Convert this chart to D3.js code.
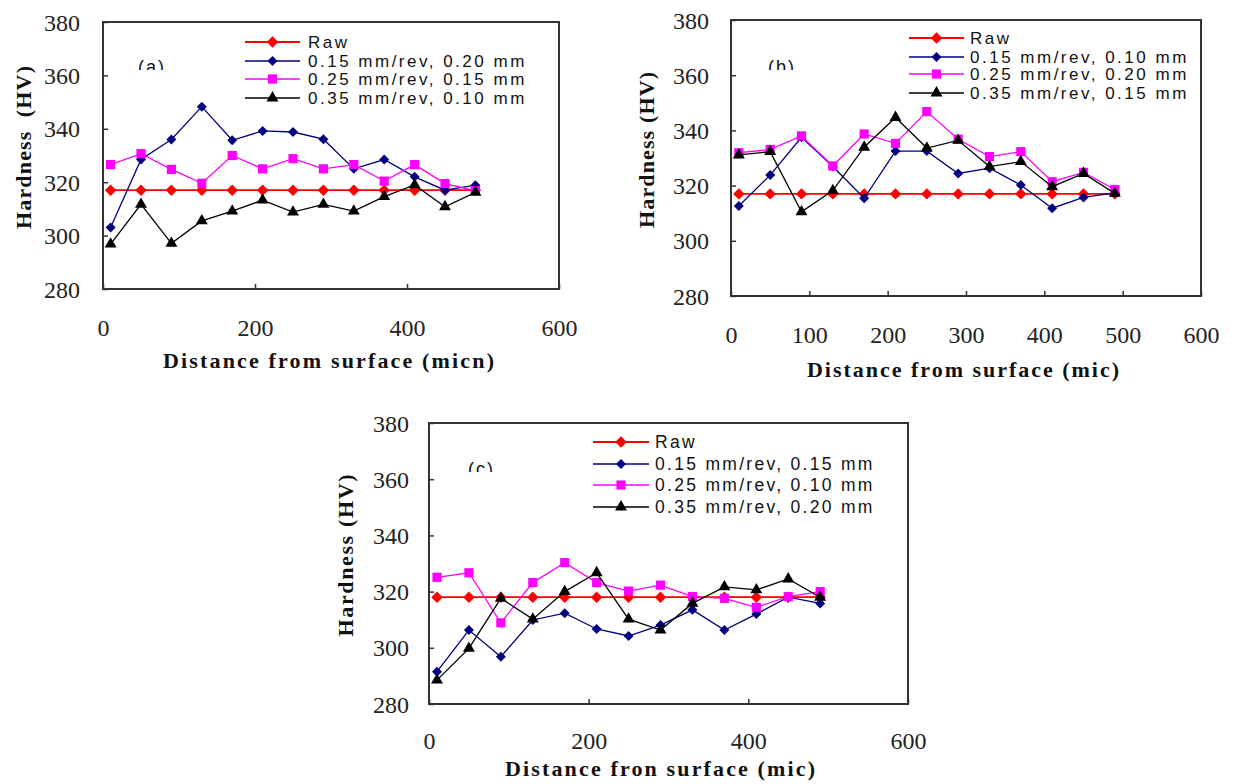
<!DOCTYPE html>
<html lang="en">
<head>
<meta charset="UTF-8">
<title>Hardness profiles</title>
<script src="https://d3js.org/d3.v7.min.js"></script>
<style>
  body { margin: 0; background: #fff; }
  svg { display: block; }
  .tick text { font-family: "Liberation Serif", "Times New Roman", serif; font-size: 24px; fill: #222; }
  .tick line { stroke: #333; stroke-width: 1.5; }
  .frame { fill: none; stroke: #333; stroke-width: 2; }
  .title { font-family: "Liberation Serif", "Times New Roman", serif; font-weight: bold; font-size: 22px; fill: #111; }
  .legend text, .tag { font-family: "Liberation Sans", Arial, sans-serif; fill: #111; }
</style>
</head>
<body>
<svg width="1234" height="784"></svg>
<script>
// distance from surface (micron), same for all panels
var depth = [10, 50, 90, 130, 170, 210, 250, 290, 330, 370, 410, 450, 490];
var yTicks = [280, 300, 320, 340, 360, 380];
var xTicksAC = [0, 200, 400, 600];
var xTicksB = [0, 100, 200, 300, 400, 500, 600];

// panel (a)
var namesA = ["Raw", "0.15 mm/rev, 0.20 mm", "0.25 mm/rev, 0.15 mm", "0.35 mm/rev, 0.10 mm"];
var rawA  = [317, 317, 317, 317, 317, 317, 317, 317, 317, 317, 317, 317, 317];
var blueA = [303, 328.5, 336, 348.3, 335.7, 339.2, 338.8, 336.1, 325, 328.5, 322, 317, 318.9];
var pinkA = [326.6, 330.7, 324.8, 319.6, 330, 325, 328.8, 325, 326.6, 320.4, 326.6, 319.5, 316.8];
var blackA = [296.8, 311.7, 297.1, 305.5, 309.2, 313.3, 308.8, 311.7, 309.2, 314.6, 319, 310.8, 316.2];

// panel (b)
var namesB = ["Raw", "0.15 mm/rev, 0.10 mm", "0.25 mm/rev, 0.20 mm", "0.35 mm/rev, 0.15 mm"];
var rawB  = [317, 317, 317, 317, 317, 317, 317, 317, 317, 317, 317, 317, 317];
var blueB = [312.6, 323.8, 337.5, 326.9, 315.4, 332.5, 332.5, 324.4, 326.3, 320.2, 311.8, 315.7, 317.4];
var pinkB = [331.9, 333.1, 338, 327.1, 338.7, 335.3, 346.8, 336.8, 330.5, 332.3, 321.4, 324.8, 318.6];
var blackB = [331.1, 332.3, 310.5, 318.2, 333.9, 344.7, 333.6, 336.4, 326.9, 328.7, 319.6, 324.4, 317.2];

// panel (c)
var namesC = ["Raw", "0.15 mm/rev, 0.15 mm", "0.25 mm/rev, 0.10 mm", "0.35 mm/rev, 0.20 mm"];
var rawC  = [318, 318, 318, 318, 318, 318, 318, 318, 318, 318, 318, 318, 318];
var blueC = [291.5, 306.3, 296.8, 309.9, 312.3, 306.7, 304.2, 308.1, 313.5, 306.3, 312, 318, 315.8];
var pinkC = [325.1, 326.7, 308.9, 323.2, 330.3, 323.2, 320.2, 322.3, 318.2, 317.6, 314.4, 318.2, 320];
var blackC = [288.5, 299.8, 317.6, 310.2, 320, 326.7, 310.2, 306.3, 315.8, 321.7, 320.6, 324.5, 318];

var colors = ["#ff0000", "#000080", "#ff00ff", "#000000"];
var shapes = ["diamond", "diamond", "square", "triangle"];
var sizes = [66, 50, 84, 62];
var widths = [1.8, 1.3, 1.3, 1.3];

var svg = d3.select("svg");

function marker(si) {
  var t = shapes[si] === "triangle" ? d3.symbolTriangle : d3.symbolSquare;
  return d3.symbol().type(t).size(sizes[si])();
}
function markerRot(si) { return shapes[si] === "diamond" ? " rotate(45)" : ""; }

var panels = [
  {tag: "(a)", tagX: 138, tagY: 73, names: namesA, series: [rawA, blueA, pinkA, blackA], xTicks: xTicksAC,
   left: 103, right: 559, top: 22, bottom: 289, padX: 30, yLabRight: 80,
   xTitle: "Distance from surface (micn)", xTitleX: 163, xTitleY: 368, xTitleLen: 331,
   yTitle: "Hardness\u00a0 (HV)", yTitleX: 31, yTitleLen: 163,
   legX: 245, legLine: 55, textX: 308, legYs: [42, 61, 79, 98], legFont: 17, legSpace: 2.5},
  {tag: "(b)", tagX: 768, tagY: 73, names: namesB, series: [rawB, blueB, pinkB, blackB], xTicks: xTicksB,
   left: 731, right: 1201, top: 20, bottom: 296, padX: 30, yLabRight: 709,
   xTitle: "Distance from surface (mic)", xTitleX: 807, xTitleY: 377, xTitleLen: 312,
   yTitle: "Hardness (HV)", yTitleX: 654, yTitleLen: 156,
   legX: 909, legLine: 55, textX: 970, legYs: [38, 57, 74, 93], legFont: 17, legSpace: 2.5},
  {tag: "(c)", tagX: 468, tagY: 475, names: namesC, series: [rawC, blueC, pinkC, blackC], xTicks: xTicksAC,
   left: 429, right: 908, top: 423, bottom: 704, padX: 28, yLabRight: 409,
   xTitle: "Distance fron surface (mic)", xTitleX: 505, xTitleY: 776, xTitleLen: 310,
   yTitle: "Hardness (HV)", yTitleX: 353, yTitleLen: 162,
   legX: 593, legLine: 56, textX: 655, legYs: [442, 464, 485, 507], legFont: 17.5, legSpace: 2.3}
];

panels.forEach(function(p, pi) {
  var x = d3.scaleLinear().domain([0, 600]).range([p.left, p.right]);
  var y = d3.scaleLinear().domain([280, 380]).range([p.bottom, p.top]);
  var g = svg.append("g");

  // axes with inward ticks
  var xa = g.append("g").attr("transform", "translate(0," + p.bottom + ")")
    .call(d3.axisBottom(x).tickValues(p.xTicks).tickFormat(d3.format("d"))
      .tickSizeInner(-5).tickSizeOuter(0).tickPadding(p.padX));
  xa.select(".domain").remove();
  xa.selectAll(".tick text").attr("font-size", null).attr("font-family", null);

  var ya = g.append("g").attr("transform", "translate(" + p.left + ",0)")
    .call(d3.axisLeft(y).tickValues(yTicks).tickSizeInner(-5).tickSizeOuter(0).tickPadding(p.left - p.yLabRight));
  ya.select(".domain").remove();
  ya.selectAll(".tick text").attr("font-size", null).attr("font-family", null).attr("dy", "0.34em");

  g.append("rect").attr("class", "frame")
    .attr("x", p.left).attr("y", p.top)
    .attr("width", p.right - p.left).attr("height", p.bottom - p.top);

  // panel tag, bottom part hidden as in the original
  var clipId = "tagclip" + pi;
  svg.append("clipPath").attr("id", clipId).append("rect")
    .attr("x", p.tagX - 5).attr("y", p.tagY - 25).attr("width", 50).attr("height", 22);
  g.append("text").attr("class", "tag").attr("clip-path", "url(#" + clipId + ")")
    .attr("x", p.tagX).attr("y", p.tagY).attr("font-size", 18).attr("letter-spacing", 2)
    .text(p.tag);

  // series
  var line = d3.line().x(function(d, i) { return x(depth[i]); }).y(function(d) { return y(d); });
  p.series.forEach(function(vals, si) {
    g.append("path").datum(vals)
      .attr("d", line).attr("fill", "none")
      .attr("stroke", colors[si]).attr("stroke-width", widths[si]);
    g.selectAll(".m" + si).data(vals).enter().append("path")
      .attr("class", "m" + si)
      .attr("transform", function(d, i) { return "translate(" + x(depth[i]) + "," + y(d) + ")" + markerRot(si); })
      .attr("d", marker(si))
      .attr("fill", colors[si]);
  });

  // legend
  var leg = g.append("g").attr("class", "legend");
  p.names.forEach(function(name, si) {
    var ly = p.legYs[si];
    leg.append("line").attr("x1", p.legX).attr("x2", p.legX + p.legLine).attr("y1", ly).attr("y2", ly)
      .attr("stroke", colors[si]).attr("stroke-width", widths[si]);
    leg.append("path").attr("d", marker(si))
      .attr("transform", "translate(" + (p.legX + p.legLine / 2) + "," + ly + ")" + markerRot(si))
      .attr("fill", colors[si]);
    leg.append("text").attr("x", p.textX).attr("y", ly + p.legFont * 0.36)
      .attr("font-size", p.legFont).attr("letter-spacing", p.legSpace)
      .text(name);
  });

  // axis titles
  g.append("text").attr("class", "title")
    .attr("x", p.xTitleX).attr("y", p.xTitleY)
    .attr("textLength", p.xTitleLen).attr("lengthAdjust", "spacing")
    .text(p.xTitle);
  var cy = (p.top + p.bottom) / 2 - 8;
  g.append("text").attr("class", "title")
    .attr("transform", "translate(" + p.yTitleX + "," + cy + ") rotate(-90)")
    .attr("x", -p.yTitleLen / 2).attr("y", 0)
    .attr("textLength", p.yTitleLen).attr("lengthAdjust", "spacing")
    .text(p.yTitle);
});
</script>
</body>
</html>
